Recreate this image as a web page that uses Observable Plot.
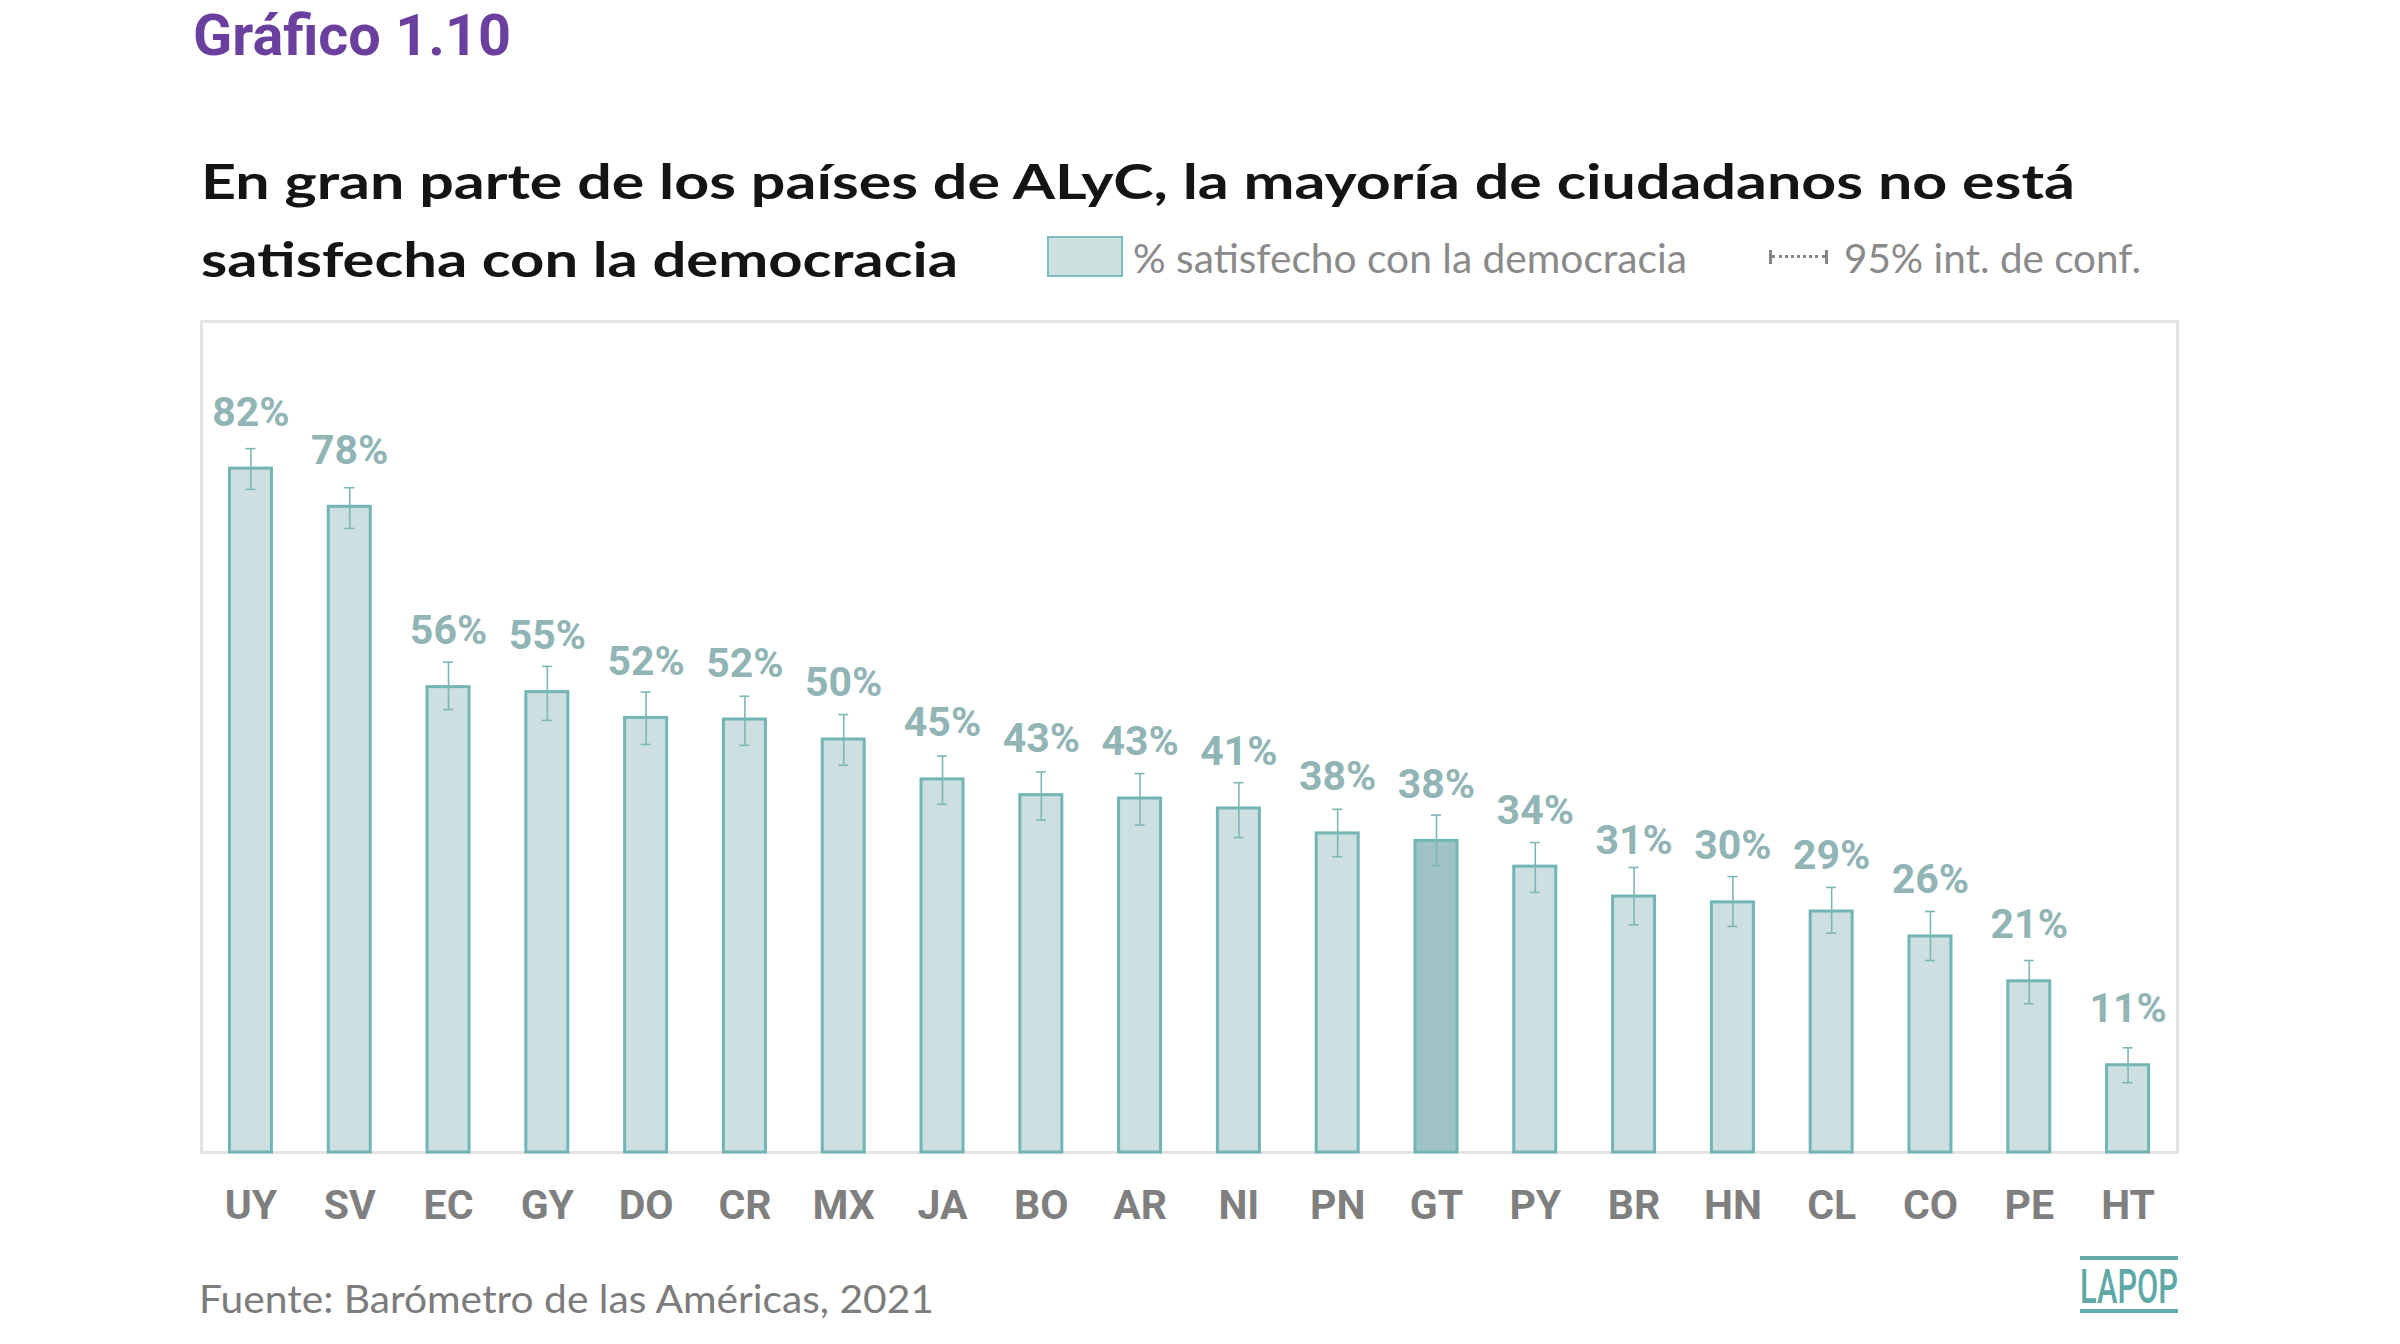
<!DOCTYPE html>
<html><head><meta charset="utf-8">
<script src="https://cdn.jsdelivr.net/npm/d3@7"></script>
<script src="https://cdn.jsdelivr.net/npm/@observablehq/plot@0.6"></script>
<style>
html,body{margin:0;padding:0;background:#fff;}
#page{position:relative;width:2400px;height:1344px;overflow:hidden;background:#fff;}
.t{position:absolute;white-space:nowrap;line-height:1;transform-origin:0 0;}
#chart{position:absolute;left:0;top:300px;}
</style></head>
<body><div id="page">
<div id="chart"></div>
<div id="kicker" class="t" style="font-family:Roboto;font-weight:700;font-size:57px;line-height:1;color:#6a3f9e;">Gráfico 1.10</div>
<div id="sub1" class="t" style="font-family:Lato;font-weight:700;font-size:47px;color:#141414;">En gran parte de los países de ALyC, la mayoría de ciudadanos no está</div>
<div id="sub2" class="t" style="font-family:Lato;font-weight:700;font-size:47px;color:#141414;">satisfecha con la democracia</div>
<div id="legSwatch" style="position:absolute;left:1047px;top:236px;width:76px;height:41px;box-sizing:border-box;background:#cfe0e1;border:2.5px solid #7dbcbc;"></div>
<div id="leg1" class="t" style="font-family:Lato;font-weight:400;font-size:40px;color:#8a8a8a;">% satisfecho con la democracia</div>
<div id="legCI" style="position:absolute;left:1769px;top:250px;width:59px;height:14px;box-sizing:border-box;border-left:3px solid #858585;border-right:3px solid #858585;">
  <div style="position:absolute;left:0;right:0;top:5px;border-top:3px dotted #858585;"></div>
</div>
<div id="leg2" class="t" style="font-family:Lato;font-weight:400;font-size:40px;color:#8a8a8a;">95% int. de conf.</div>
<div id="source" class="t" style="font-family:Lato;font-weight:400;font-size:38px;color:#7c7c7c;">Fuente: Barómetro de las Américas, 2021</div>
<div id="logoBox" style="position:absolute;left:2080px;top:1256px;width:98px;height:57px;box-sizing:border-box;border-top:4px solid #62abab;border-bottom:4px solid #62abab;"></div>
<div id="logo" class="t" style="font-family:Roboto;font-weight:500;font-size:49px;color:#5fa8a8;">LAPOP</div>
</div>
<script>
// ---- data ----
const countries = ["UY","SV","EC","GY","DO","CR","MX","JA","BO","AR","NI","PN","GT","PY","BR","HN","CL","CO","PE","HT"];
const values    = [82.3, 77.7, 56.0, 55.4, 52.3, 52.1, 49.7, 44.9, 43.0, 42.6, 41.4, 38.4, 37.5, 34.4, 30.8, 30.1, 29.0, 26.0, 20.6, 10.5];
const ciLow     = [79.8, 75.1, 53.3, 52.0, 49.1, 49.0, 46.6, 41.9, 40.0, 39.4, 37.9, 35.6, 34.5, 31.3, 27.4, 27.2, 26.4, 23.1, 17.9, 8.4];
const ciHigh    = [84.7, 80.0, 59.0, 58.5, 55.4, 54.9, 52.7, 47.7, 45.8, 45.6, 44.5, 41.3, 40.6, 37.3, 34.3, 33.2, 31.9, 29.0, 23.1, 12.6];
const valueLabels = ["82%","78%","56%","55%","52%","52%","50%","45%","43%","43%","41%","38%","38%","34%","31%","30%","29%","26%","21%","11%"];
const highlight = "GT";

const data = countries.map((c, i) => ({country: c, value: values[i], lo: ciLow[i], hi: ciHigh[i], label: valueLabels[i]}));

const barStroke = "#72b5b5";
const ciColor = "#7cb7b7";

const chart = Plot.plot({
  width: 2400,
  height: 940,
  marginLeft: 201,
  marginRight: 223,
  marginTop: 21,
  marginBottom: 88,
  style: {fontFamily: "Roboto", background: "transparent", overflow: "visible"},
  x: {domain: countries, paddingInner: 0.575, paddingOuter: 0.288, round: false, axis: null},
  y: {domain: [0, 100], axis: null},
  marks: [
    Plot.frame({stroke: "#e4e4e4", strokeWidth: 3}),
    Plot.barY(data.filter(d => d.country !== highlight), {x: "country", y: "value", fill: "#cddfe0", stroke: barStroke, strokeWidth: 3}),
    Plot.barY(data.filter(d => d.country === highlight), {x: "country", y: "value", fill: "#a0c4c5", stroke: barStroke, strokeWidth: 3}),
    Plot.ruleX(data, {x: "country", y1: "lo", y2: "hi", stroke: ciColor, strokeWidth: 1.6}),
    Plot.tickY(data, {x: "country", y: "lo", stroke: ciColor, strokeWidth: 1.6, insetLeft: 16, insetRight: 16}),
    Plot.tickY(data, {x: "country", y: "hi", stroke: ciColor, strokeWidth: 1.6, insetLeft: 16, insetRight: 16}),
    Plot.text(data, {x: "country", y: "value", text: "label", dy: -43, lineAnchor: "bottom", fontSize: 41, fontWeight: "bold", fill: "#91b4b5"}),
    Plot.text(data, {x: "country", text: "country", frameAnchor: "bottom", dy: 66, lineAnchor: "bottom", fontSize: 41, fontWeight: "bold", fill: "#7f7f7f"})
  ]
});
document.getElementById("chart").appendChild(chart);

// place text by baseline; optionally fit to target width
function place(id, x, baseline, targetWidth) {
  const el = document.getElementById(id);
  const probe = document.createElement("span");
  probe.style.cssText = "display:inline-block;width:0;height:0;vertical-align:baseline;";
  el.appendChild(probe);
  el.style.left = x + "px";
  el.style.top = "0px";
  const off = probe.getBoundingClientRect().top - el.getBoundingClientRect().top;
  el.removeChild(probe);
  el.style.top = (baseline - off) + "px";
  if (targetWidth) {
    const w = el.getBoundingClientRect().width;
    el.style.transform = "scaleX(" + (targetWidth / w) + ")";
  }
}
place("kicker", 193, 55, 318);
place("sub1", 201, 199, 1874);
place("sub2", 201, 277, 757);
place("leg1", 1133, 273, 554);
place("leg2", 1844, 273, 297);
place("source", 199, 1313, 735);
place("logo", 2080, 1303, 98);
</script>
</body></html>
